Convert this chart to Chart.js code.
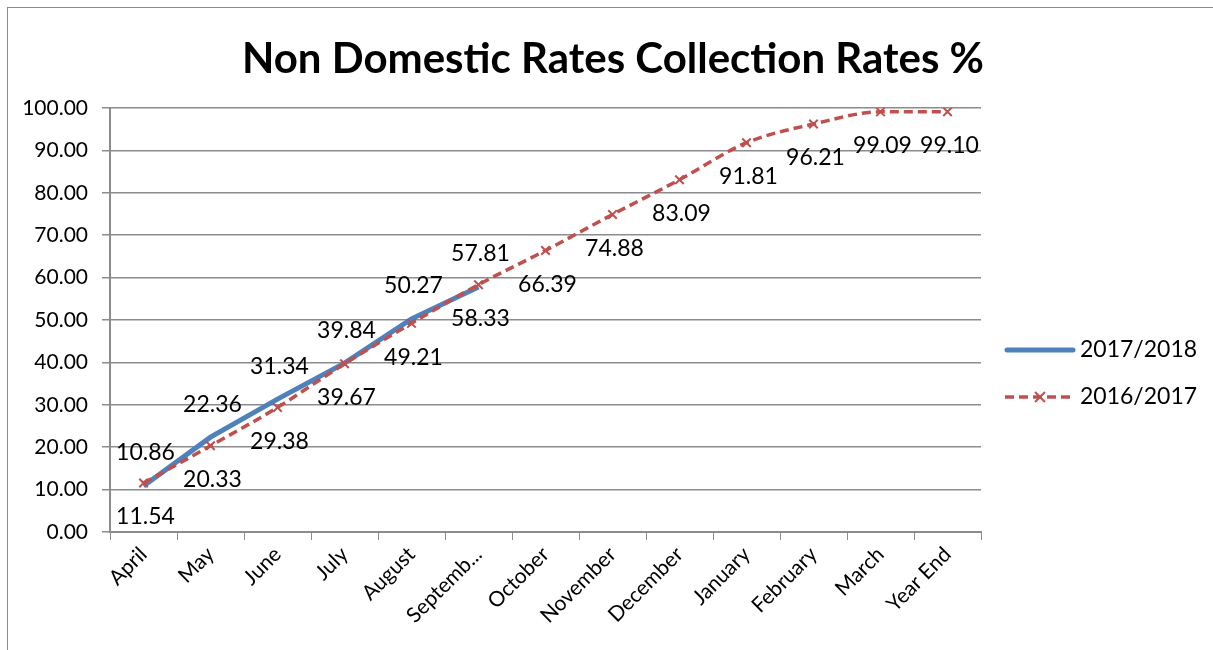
<!DOCTYPE html>
<html>
<head>
<meta charset="utf-8">
<script src="https://cdn.jsdelivr.net/npm/chart.js@4/dist/chart.umd.min.js"></script>
<style>
    html, body { margin: 0; padding: 0; background: #fff; overflow: hidden; }
    #frame { position: absolute; left: 7px; top: 7px; width: 1210px; height: 700px; border: 1px solid #8c8c8c; }
    #wrap { position: absolute; left: 0; top: 0; width: 1213px; height: 650px; }
</style>
</head>
<body>
<div id="frame"></div>
<div id="wrap"><canvas id="rateChart"></canvas></div>
<script>
const months = ['April', 'May', 'June', 'July', 'August', 'Septemb...', 'October', 'November', 'December', 'January', 'February', 'March', 'Year End'];
const rates1718 = [10.86, 22.36, 31.34, 39.84, 50.27, 57.81];
const rates1617 = [11.54, 20.33, 29.38, 39.67, 49.21, 58.33, 66.39, 74.88, 83.09, 91.81, 96.21, 99.09, 99.10];
const seriesNames = ['2017/2018', '2016/2017'];
const chartTitle = 'Non Domestic Rates Collection Rates %';

const blue = '#4f81bd';
const red = '#c0504d';
const font = 'Lato, "Open Sans", sans-serif';

// data labels: blue above the point, red below it
const labelPlugin = {
    id: 'labels',
    afterDatasetsDraw(chart) {
        const ctx = chart.ctx;
        ctx.save();
        ctx.font = '23px ' + font;
        ctx.fillStyle = '#000';
        ctx.textAlign = 'center';
        ctx.textBaseline = 'middle';
        chart.data.datasets.forEach((ds, i) => {
            const meta = chart.getDatasetMeta(i);
            meta.data.forEach((pt, j) => {
                const dy = i === 0 ? -33 : 34;
                ctx.fillText(ds.data[j].toFixed(2), pt.x + 2, pt.y + dy);
            });
        });
        ctx.restore();
    }
};

// title and legend drawn by hand so the plot area stays where it is
const decorPlugin = {
    id: 'decor',
    afterDraw(chart) {
        const ctx = chart.ctx;
        ctx.save();
        ctx.fillStyle = '#000';
        ctx.font = 'bold 42px ' + font;
        ctx.textAlign = 'center';
        ctx.textBaseline = 'middle';
        ctx.fillText(chartTitle, 613, 59);

        ctx.font = '23px ' + font;
        ctx.textAlign = 'left';
        // 2017/2018
        ctx.strokeStyle = blue;
        ctx.lineWidth = 5;
        ctx.lineCap = 'round';
        ctx.beginPath();
        ctx.moveTo(1007, 350);
        ctx.lineTo(1073, 350);
        ctx.stroke();
        ctx.fillText(seriesNames[0], 1080, 350);
        // 2016/2017
        ctx.strokeStyle = red;
        ctx.lineWidth = 3.5;
        ctx.lineCap = 'butt';
        ctx.setLineDash([9, 5]);
        ctx.beginPath();
        ctx.moveTo(1005, 397);
        ctx.lineTo(1075, 397);
        ctx.stroke();
        ctx.setLineDash([]);
        ctx.lineWidth = 2;
        ctx.beginPath();
        ctx.moveTo(1035, 392); ctx.lineTo(1045, 402);
        ctx.moveTo(1045, 392); ctx.lineTo(1035, 402);
        ctx.stroke();
        ctx.fillText(seriesNames[1], 1080, 397);
        ctx.restore();
    }
};

const ctx = document.getElementById('rateChart').getContext('2d');
new Chart(ctx, {
    type: 'line',
    data: {
        labels: months,
        datasets: [{
            label: seriesNames[0],
            data: rates1718,
            borderColor: blue,
            backgroundColor: blue,
            borderWidth: 5,
            pointRadius: 0,
            tension: 0,
            order: 1
        }, {
            label: seriesNames[1],
            data: rates1617,
            borderColor: red,
            backgroundColor: red,
            borderWidth: 3.5,
            borderDash: [9, 5],
            pointStyle: 'crossRot',
            pointRadius: 6,
            pointBorderWidth: 2,
            cubicInterpolationMode: 'monotone',
            order: 0
        }]
    },
    options: {
        responsive: true,
        maintainAspectRatio: false,
        animation: false,
        layout: { padding: { top: 108, right: 232, left: 0, bottom: 0 } },
        plugins: {
            legend: { display: false },
            title: { display: false },
            tooltip: { enabled: false }
        },
        scales: {
            x: {
                offset: true,
                afterFit(scale) { scale.height = 118; },
                grid: {
                    offset: true,
                    drawOnChartArea: false,
                    drawTicks: true,
                    tickLength: 8,
                    color: '#8c8c8c'
                },
                border: { color: '#8c8c8c', width: 2 },
                ticks: {
                    color: '#000',
                    font: { family: font, size: 21 },
                    maxRotation: 45,
                    minRotation: 45,
                    autoSkip: false,
                    padding: 2
                }
            },
            y: {
                min: 0,
                max: 100,
                afterFit(scale) { scale.width = 110; },
                grid: {
                    color: '#8c8c8c',
                    lineWidth: 1.5,
                    tickLength: 8
                },
                border: { color: '#8c8c8c', width: 2 },
                ticks: {
                    stepSize: 10,
                    color: '#000',
                    padding: 14,
                    font: { family: font, size: 21 },
                    callback: v => v.toFixed(2)
                }
            }
        }
    },
    plugins: [labelPlugin, decorPlugin]
});
</script>
</body>
</html>
